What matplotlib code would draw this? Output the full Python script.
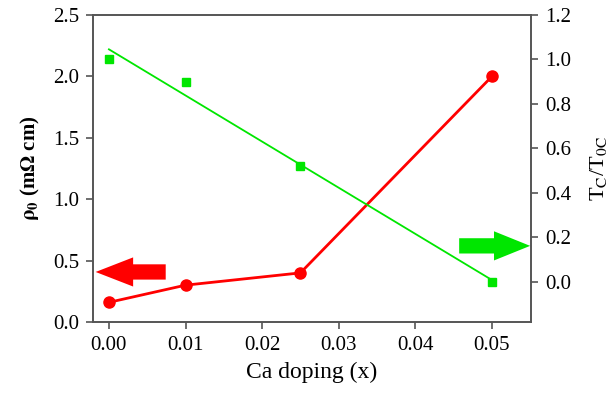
import numpy as np
import matplotlib.pyplot as plt

plt.rcParams['font.family'] = ['Liberation Serif', 'DejaVu Serif']
plt.rcParams['mathtext.fontset'] = 'stix'

# Ca doping levels
doping = [0.0, 0.01, 0.025, 0.05]
# residual resistivity rho0 (mOhm cm)
rho0 = [0.16, 0.30, 0.40, 2.00]
# normalised Tc
tc_ratio = [1.00, 0.90, 0.52, 0.00]

fig = plt.figure(figsize=(6.15, 3.98), dpi=100)
ax = fig.add_axes([93 / 615, 1 - 322 / 398, 438 / 615, 307 / 398])
ax2 = ax.twinx()

spine_col = '#555555'

ax.plot(doping, rho0, color='#ff0000', lw=2, marker='o', ms=8, zorder=3)
ax.set_xlim(-0.00208, 0.0551)
ax.set_ylim(0, 2.5)
ax.set_xticks([0.0, 0.01, 0.02, 0.03, 0.04, 0.05])
ax.set_xticklabels(['0.00', '0.01', '0.02', '0.03', '0.04', '0.05'])
ax.set_yticks([0.0, 0.5, 1.0, 1.5, 2.0, 2.5])
ax.set_yticklabels(['0.0', '0.5', '1.0', '1.5', '2.0', '2.5'])
ax.set_xlabel('Ca doping (x)', fontsize=17, labelpad=5)
ax.set_ylabel(r'$\mathbf{\rho_0}$ (m$\mathbf{\Omega}$ cm)', fontsize=15,
              fontweight='bold', labelpad=8)

# linear fit of Tc/Tc0
coef = np.polyfit(doping, tc_ratio, 1)
xfit = np.array([doping[0], doping[-1]])
ax2.plot(xfit, np.polyval(coef, xfit), color='#00e600', lw=1.3)
ax2.plot(doping, tc_ratio, ls='none', marker='s', ms=6, color='#00e600')
ax2.set_ylim(-0.18, 1.2)
ax2.set_yticks([0.0, 0.2, 0.4, 0.6, 0.8, 1.0, 1.2])
ax2.set_yticklabels(['0.0', '0.2', '0.4', '0.6', '0.8', '1.0', '1.2'])
ax2.set_ylabel(r'T$_\mathrm{C}$/T$_\mathrm{0C}$', fontsize=16, labelpad=12)

for a in (ax, ax2):
    for s in a.spines.values():
        s.set_color(spine_col)
        s.set_linewidth(1.2)
    a.tick_params(labelsize=15, color=spine_col, length=5, width=1.2,
                  direction='out', pad=5)

# direction arrows
ax.annotate('', xy=(0.006, 0.163), xytext=(0.166, 0.163),
            xycoords='axes fraction', textcoords='axes fraction',
            arrowprops=dict(arrowstyle='simple,head_length=27,head_width=21,tail_width=11',
                            mutation_scale=1, color='#ff0000', lw=0,
                            shrinkA=0, shrinkB=0))
ax.annotate('', xy=(0.998, 0.248), xytext=(0.836, 0.248),
            xycoords='axes fraction', textcoords='axes fraction',
            arrowprops=dict(arrowstyle='simple,head_length=26,head_width=21,tail_width=11',
                            mutation_scale=1, color='#00e600', lw=0,
                            shrinkA=0, shrinkB=0))

fig.savefig('out.png', dpi=100)
